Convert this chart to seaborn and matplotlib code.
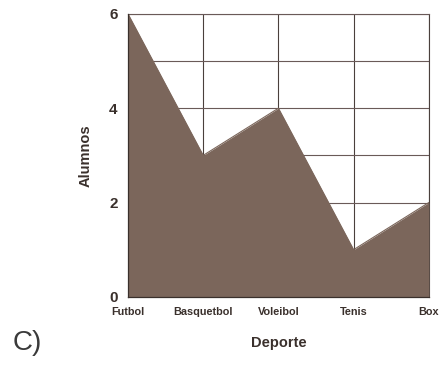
import matplotlib
matplotlib.use("Agg")
from matplotlib import pyplot as plt
from matplotlib.ticker import MultipleLocator
import numpy as np
import pandas as pd
import seaborn as sns

deportes = ["Futbol", "Basquetbol", "Voleibol", "Tenis", "Box"]
alumnos = [6, 3, 4, 1, 2]

sns.set_style("white")
plt.rcParams['font.family'] = ['Liberation Sans', 'DejaVu Sans']

data = pd.DataFrame({"pos": np.arange(len(deportes)), "Alumnos": alumnos})

fig = plt.figure(figsize=(4.43, 3.66), dpi=100)
ax = fig.add_axes([0.289, 0.189, 0.679, 0.773])

fill_col = "#7b665b"
sns.lineplot(x="pos", y="Alumnos", data=data, ax=ax, color=fill_col, lw=0.8, zorder=4)
ax.fill_between(data["pos"], 0, data["Alumnos"], color=fill_col, zorder=3, lw=0)

ax.set_xlim(0, len(deportes) - 1)
ax.set_ylim(0, 6)
ax.set_xticks(data["pos"])
ax.set_xticklabels(deportes, fontsize=7.8, fontweight='bold', color="#3a302c")
ax.yaxis.set_major_locator(MultipleLocator(2))
ax.yaxis.set_minor_locator(MultipleLocator(1))
ax.tick_params(axis='y', which='major', labelsize=11, length=4, width=0.8, colors="#3a302c")
ax.tick_params(axis='y', which='minor', length=3, width=0.8, color="#3a302c")
ax.tick_params(axis='x', length=4, width=0.8, colors="#3a302c", pad=3)
for lab in ax.get_yticklabels():
    lab.set_fontweight('bold')

ax.grid(True, which='both', axis='y', color="#6a5a58", lw=0.8, zorder=1)
ax.grid(True, which='major', axis='x', color="#4a403c", lw=0.8, zorder=1)
ax.set_axisbelow(True)

ax.spines["top"].set_color("#6a5a58")
ax.spines["right"].set_color("#4a403c")
for side in ["top", "right"]:
    ax.spines[side].set_linewidth(0.8)
for side in ["left", "bottom"]:
    ax.spines[side].set_color("#3a302c")
    ax.spines[side].set_linewidth(0.9)
    ax.spines[side].set_zorder(5)

ax.set_xlabel("Deporte", fontsize=10.5, fontweight='bold', color="#3a302c", labelpad=14)
ax.set_ylabel("Alumnos", fontsize=10.5, fontweight='bold', color="#3a302c", labelpad=12)

fig.text(0.028, 0.062, "C)", fontsize=20, color="#3a3a3a", va='center', ha='left')

plt.savefig("out.png", dpi=100)
plt.close()
